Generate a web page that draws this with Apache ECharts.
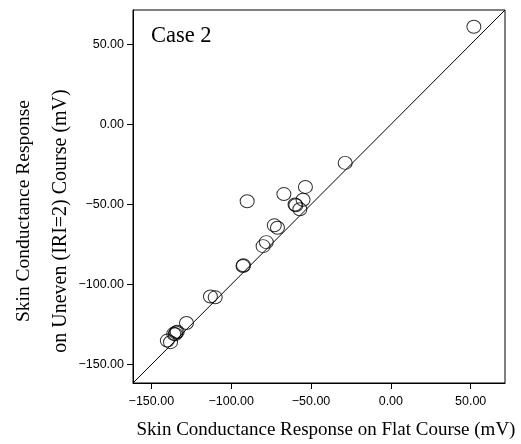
<!DOCTYPE html>
<html>
<head>
<meta charset="utf-8">
<script src="https://cdn.jsdelivr.net/npm/echarts@6/dist/echarts.min.js"></script>
<style>
  html, body { margin: 0; padding: 0; background: #fff; }
  #chart { width: 521px; height: 444px; }
</style>
</head>
<body>
<div id="chart"></div>
<script>
// Skin conductance response (mV): flat course vs uneven (IRI=2) course
const flatCourse = [52, -28.6, -53.5, -67, -90, -55, -60, -59.5, -57, -73, -71, -78, -80,
  -92.3, -92.6, -113, -110, -128, -134.5, -135, -133.8, -136, -140, -138];
const unevenCourse = [61, -24, -39, -43.5, -48, -47, -50, -50.5, -53, -63, -64.5, -73.5, -76,
  -88, -88.4, -107.5, -108, -124, -130, -131, -129.5, -130.8, -135, -136];
const axisMin = -161.5;
const axisMax = 71.5;
const tickValues = [-150, -100, -50, 0, 50];
const caseLabel = 'Case 2';
const xTitle = 'Skin Conductance Response on Flat Course (mV)';
const yTitleLines = ['Skin Conductance Response', 'on Uneven (IRI=2) Course (mV)'];

const points = flatCourse.map((x, i) => [x, unevenCourse[i]]);
const identity = [[axisMin, axisMin], [axisMax, axisMax]];

const fmt = v => v.toFixed(2).replace('-', '\u2212');

function makeAxis(margin) {
  return {
    type: 'value',
    min: axisMin,
    max: axisMax,
    splitLine: { show: false },
    axisLine: { show: true, onZero: false, lineStyle: { color: '#000', width: 1 } },
    axisTick: { show: true, length: 6, customValues: tickValues, lineStyle: { color: '#000' } },
    axisLabel: {
      customValues: tickValues,
      formatter: fmt,
      color: '#000',
      fontFamily: 'Liberation Sans',
      fontSize: 12.5,
      margin: margin
    }
  };
}

const chart = echarts.init(document.getElementById('chart'), null, { renderer: 'canvas' });
chart.setOption({
  animation: false,
  backgroundColor: '#fff',
  grid: {
    left: 133, right: 16, top: 10, bottom: 61,
    show: true, borderColor: '#000', borderWidth: 1, backgroundColor: 'transparent'
  },
  xAxis: makeAxis(12),
  yAxis: makeAxis(9),
  series: [
    {
      type: 'line',
      data: identity,
      symbol: 'none',
      silent: true,
      lineStyle: { color: '#000', width: 1 },
      z: 1
    },
    {
      type: 'scatter',
      data: points,
      symbol: 'circle',
      symbolSize: [14, 13],
      itemStyle: { color: 'transparent', borderColor: '#000', borderWidth: 1 },
      z: 2
    }
  ],
  graphic: [
    {
      type: 'text', x: 151, y: 36,
      style: { text: caseLabel, font: '22.5px "Liberation Serif"', fill: '#000', verticalAlign: 'middle' }
    },
    {
      type: 'text', x: 326, y: 430,
      style: { text: xTitle, font: '19px "Liberation Serif"', fill: '#000', align: 'center', verticalAlign: 'middle' }
    },
    {
      type: 'text', x: 24, y: 211, rotation: Math.PI / 2,
      style: { text: yTitleLines[0], font: '19.5px "Liberation Serif"', fill: '#000', align: 'center', verticalAlign: 'middle' }
    },
    {
      type: 'text', x: 61, y: 221, rotation: Math.PI / 2,
      style: { text: yTitleLines[1], font: '20px "Liberation Serif"', fill: '#000', align: 'center', verticalAlign: 'middle' }
    }
  ]
});
</script>
</body>
</html>
